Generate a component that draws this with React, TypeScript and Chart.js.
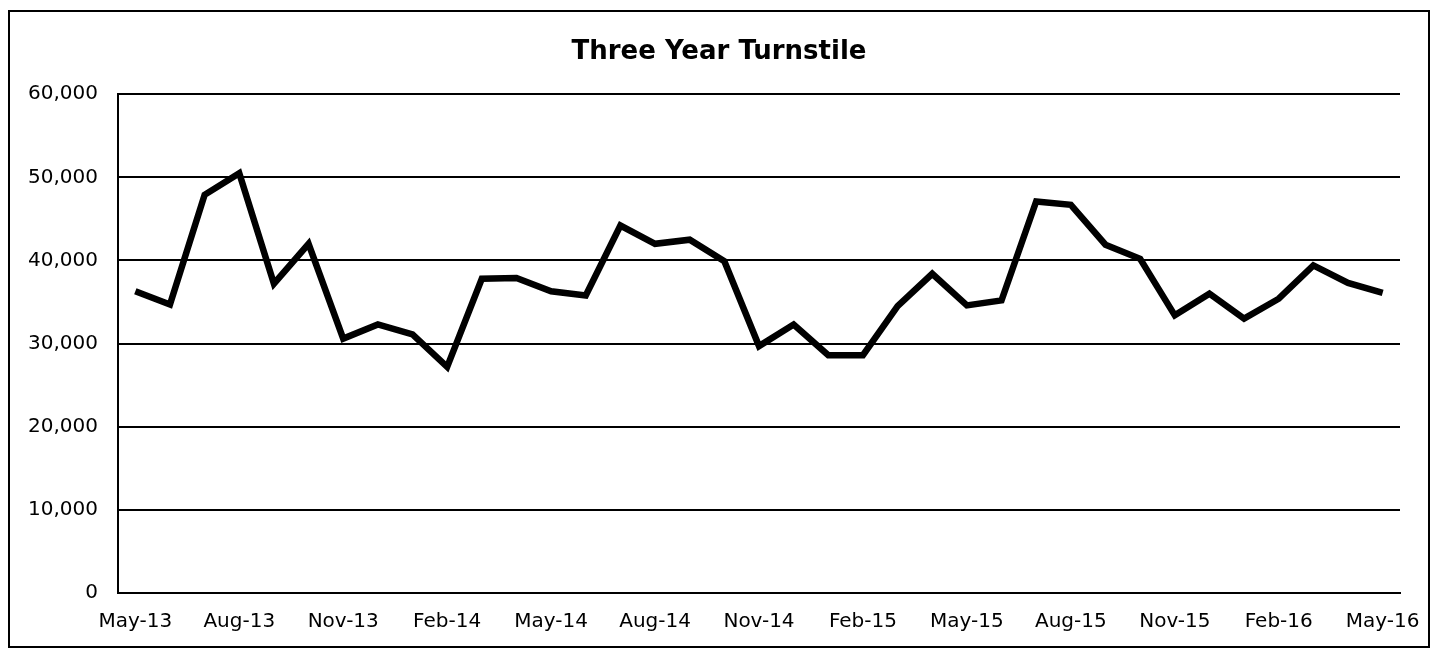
import React, { useEffect, useRef } from "react";
import { Chart, registerables } from "chart.js";

Chart.register(...registerables);

const months: string[] = [
  "May-13", "Jun-13", "Jul-13", "Aug-13", "Sep-13", "Oct-13", "Nov-13", "Dec-13",
  "Jan-14", "Feb-14", "Mar-14", "Apr-14", "May-14", "Jun-14", "Jul-14", "Aug-14",
  "Sep-14", "Oct-14", "Nov-14", "Dec-14", "Jan-15", "Feb-15", "Mar-15", "Apr-15",
  "May-15", "Jun-15", "Jul-15", "Aug-15", "Sep-15", "Oct-15", "Nov-15", "Dec-15",
  "Jan-16", "Feb-16", "Mar-16", "Apr-16", "May-16",
];

const turnstile: number[] = [
  36300, 34700, 47900, 50500, 37200, 42000, 30600, 32300,
  31100, 27200, 37800, 37900, 36300, 35800, 44200, 42000,
  42500, 39900, 29700, 32300, 28600, 28600, 34500, 38400,
  34600, 35200, 47100, 46700, 41900, 40200, 33400, 36000,
  33000, 35400, 39400, 37300, 36100,
];

const yMin = 0;
const yMax = 60000;
const yStep = 10000;
const chartTitle = "Three Year Turnstile";

export default function App() {
  const canvasRef = useRef<HTMLCanvasElement | null>(null);

  useEffect(() => {
    if (!canvasRef.current) return;
    const font = "'DejaVu Sans', Verdana, sans-serif";
    const chart = new Chart(canvasRef.current, {
      type: "line",
      data: {
        labels: months,
        datasets: [
          {
            label: "Turnstile",
            data: turnstile,
            borderColor: "#000",
            backgroundColor: "#000",
            borderWidth: 6.5,
            pointRadius: 0,
            tension: 0,
            fill: false,
          },
        ],
      },
      options: {
        animation: false,
        responsive: true,
        maintainAspectRatio: false,
        layout: { padding: { left: 0, right: 0, top: 0, bottom: 0 } },
        plugins: {
          legend: { display: false },
          tooltip: { enabled: false },
          title: {
            display: true,
            text: chartTitle,
            color: "#000",
            font: { family: font, size: 26, weight: "bold" },
            padding: { top: 25, bottom: 26 },
          },
        },
        scales: {
          x: {
            offset: true,
            grid: { display: false, drawTicks: false },
            border: { display: true, color: "#000", width: 2 },
            ticks: {
              autoSkip: false,
              maxRotation: 0,
              minRotation: 0,
              padding: 17,
              color: "#000",
              font: { family: font, size: 20 },
              callback: function (_v: any, i: number) {
                return i % 3 === 0 ? months[i] : "";
              },
            },
            afterFit: (scale: any) => {
              scale.height = 53;
              scale.paddingLeft = 0;
              scale.paddingRight = 28;
            },
          },
          y: {
            min: yMin,
            max: yMax,
            grid: { color: "#000", lineWidth: 2, drawTicks: false },
            border: { display: true, color: "#000", width: 2 },
            ticks: {
              stepSize: yStep,
              padding: 20,
              color: "#000",
              font: { family: font, size: 20 },
              callback: (v: any) => Number(v).toLocaleString("en-US"),
            },
            afterFit: (scale: any) => {
              scale.width = 108;
            },
          },
        },
      },
    });
    return () => chart.destroy();
  }, []);

  return (
    <div style={{ paddingTop: 2 }}>
      <div
        style={{
          width: 1418,
          height: 634,
          border: "2px solid #000",
          position: "relative",
          background: "#fff",
        }}
      >
        <canvas ref={canvasRef} />
      </div>
    </div>
  );
}
